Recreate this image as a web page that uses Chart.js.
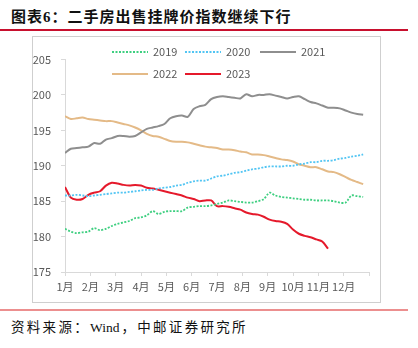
<!DOCTYPE html>
<html>
<head>
<meta charset="utf-8">
<script src="https://cdn.jsdelivr.net/npm/chart.js@4.4.1/dist/chart.umd.min.js"></script>
<style>
  html, body { margin: 0; padding: 0; background: #fff; }
  body { width: 418px; height: 348px; position: relative; overflow: hidden; }
  #title {
    position: absolute; left: 11px; top: 5px;
    font: bold 15px "Liberation Serif", "Noto Sans CJK SC", serif;
    letter-spacing: 1px; color: #111; white-space: nowrap;
  }
  .rule-top { position: absolute; left: 0; top: 29px; width: 408px; height: 2px; background: #c8102e; }
  .frame { position: absolute; left: 32px; top: 36px; width: 349px; height: 267px; box-sizing: border-box; border: 1px solid #cfcfcf; }
  #chartBox { position: absolute; left: 32px; top: 36px; }
  .rule-bottom { position: absolute; left: 0; top: 309px; width: 408px; height: 2px; background: #ec8f8f; }
  #source {
    position: absolute; left: 11px; top: 316px;
    font: 13.5px "Liberation Serif", "Noto Sans CJK SC", serif;
    letter-spacing: 2.3px; color: #111; white-space: nowrap;
  }
  #source .latin { letter-spacing: 0; margin-right: 2px; }
</style>
</head>
<body>
<div id="title">图表6：二手房出售挂牌价指数继续下行</div>
<div class="rule-top"></div>
<div class="frame"></div>
<canvas id="chartBox" width="348" height="266"></canvas>
<div class="rule-bottom"></div>
<div id="source">资料来源：<span class="latin">Wind</span>，中邮证券研究所</div>

<script>
// 二手房出售挂牌价指数，按周，1月起
const monthLabels = ['1月', '2月', '3月', '4月', '5月', '6月', '7月', '8月', '9月', '10月', '11月', '12月'];
const yTicks = [175, 180, 185, 190, 195, 200, 205];

const idx2019 = [181.1, 180.7, 180.5, 180.6, 180.7, 181.2, 180.9, 181.1, 181.5, 181.8,
  182.0, 182.2, 182.6, 182.7, 183.0, 183.6, 183.2, 183.5, 183.6, 183.6,
  183.6, 184.1, 184.2, 184.3, 184.3, 184.4, 184.6, 184.8, 185.1, 185.0,
  184.9, 184.8, 184.8, 185.0, 185.3, 186.2, 185.8, 185.6, 185.5, 185.4,
  185.3, 185.2, 185.2, 185.1, 185.1, 185.1, 185.0, 184.8, 184.8, 185.8,
  185.7, 185.6];
const idx2020 = [185.8, 185.8, 185.9, 185.8, 185.7, 185.8, 185.9, 186.0, 186.1, 186.2,
  186.2, 186.3, 186.4, 186.5, 186.6, 186.6, 186.8, 186.9, 187.0, 187.2,
  187.3, 187.6, 187.8, 187.9, 187.9, 188.2, 188.5, 188.6, 188.8, 189.0,
  189.1, 189.3, 189.5, 189.6, 189.8, 189.9, 189.9, 189.9, 190.0, 190.0,
  190.2, 190.3, 190.5, 190.5, 190.7, 190.7, 190.8, 191.0, 191.1, 191.3,
  191.4, 191.6];
const idx2021 = [191.8, 192.4, 192.5, 192.6, 192.7, 193.2, 193.1, 193.7, 193.9, 194.2,
  194.2, 194.1, 194.2, 194.7, 195.2, 195.4, 195.6, 195.9, 196.7, 197.0,
  197.1, 196.9, 198.0, 198.4, 198.6, 199.4, 199.7, 199.8, 199.7, 199.6,
  199.5, 200.1, 199.8, 200.0, 200.0, 200.1, 199.9, 199.7, 199.5, 199.7,
  199.8, 199.4, 199.0, 198.8, 198.5, 198.2, 198.2, 198.1, 197.8, 197.5,
  197.3, 197.2];
const idx2022 = [197.0, 196.6, 196.7, 196.8, 196.6, 196.5, 196.4, 196.3, 196.3, 196.1,
  195.9, 195.7, 195.4, 195.0, 194.5, 194.2, 194.1, 193.8, 193.5, 193.4,
  193.4, 193.3, 193.1, 192.9, 192.7, 192.6, 192.5, 192.3, 192.3, 192.2,
  192.0, 191.9, 191.6, 191.6, 191.5, 191.3, 191.1, 190.9, 190.8, 190.6,
  190.2, 190.0, 189.8, 189.8, 189.5, 189.2, 189.1, 188.8, 188.4, 188.0,
  187.7, 187.4];
const idx2023 = [187.0, 185.5, 185.2, 185.3, 185.9, 186.2, 186.4, 187.2, 187.6, 187.5,
  187.3, 187.2, 187.3, 187.2, 186.9, 186.8, 186.6, 186.4, 186.2, 186.0,
  185.8, 185.5, 185.3, 185.0, 185.1, 185.1, 184.3, 184.3, 184.2, 184.0,
  183.8, 183.4, 183.2, 183.1, 182.8, 182.4, 182.2, 182.1, 181.8, 181.0,
  180.4, 180.1, 179.9, 179.6, 179.3, 178.3];

const WEEKS = 52;
const toPoints = arr => arr.map((v, i) => ({ x: i, y: v }));

// 图例：两行，手动绘制在绘图区左上方
const cornerLegend = {
  id: 'cornerLegend',
  afterDraw(chart) {
    const ctx = chart.ctx;
    const cols = [80, 153, 228];
    const rows = [16, 38];
    chart.data.datasets.forEach((ds, k) => {
      const x = cols[k % 3], y = rows[Math.floor(k / 3)];
      ctx.save();
      ctx.strokeStyle = ds.borderColor;
      ctx.lineWidth = ds.borderWidth;
      ctx.setLineDash(ds.borderDash || []);
      ctx.beginPath();
      ctx.moveTo(x, y);
      ctx.lineTo(x + 36, y);
      ctx.stroke();
      ctx.setLineDash([]);
      ctx.fillStyle = '#595959';
      ctx.font = '11px "Noto Sans CJK SC", sans-serif';
      ctx.textBaseline = 'middle';
      ctx.fillText(ds.label, x + 41, y);
      ctx.restore();
    });
  }
};

const axisFont = { family: '"Noto Sans CJK SC", sans-serif', size: 11 };

new Chart(document.getElementById('chartBox'), {
  type: 'line',
  data: {
    datasets: [
      { label: '2019', data: toPoints(idx2019), borderColor: '#3ecf80', borderWidth: 1.8, borderDash: [2, 1.5] },
      { label: '2020', data: toPoints(idx2020), borderColor: '#52c5f3', borderWidth: 1.8, borderDash: [2, 1.5] },
      { label: '2021', data: toPoints(idx2021), borderColor: '#8e8e8e', borderWidth: 2 },
      { label: '2022', data: toPoints(idx2022), borderColor: '#e4ba87', borderWidth: 2 },
      { label: '2023', data: toPoints(idx2023), borderColor: '#e5192b', borderWidth: 2 }
    ]
  },
  options: {
    responsive: false,
    animation: false,
    layout: { padding: { top: 23.5, right: 11, left: 0, bottom: 0 } },
    elements: { point: { radius: 0 }, line: { tension: 0.3, fill: false } },
    plugins: { legend: { display: false }, tooltip: { enabled: false } },
    scales: {
      x: {
        type: 'linear',
        min: 0,
        max: WEEKS,
        afterBuildTicks: scale => {
          const t = monthLabels.map((m, k) => ({ value: k * WEEKS / 12 }));
          t.push({ value: WEEKS });
          scale.ticks = t;
        },
        afterFit: scale => { scale.height = 30; },
        ticks: {
          autoSkip: false,
          maxRotation: 0,
          padding: 4,
          color: '#595959',
          font: axisFont,
          callback: (v, i) => monthLabels[i] || ''
        },
        grid: { drawOnChartArea: false, drawTicks: true, tickLength: 4, color: '#d9d9d9' },
        border: { color: '#d9d9d9' }
      },
      y: {
        min: 175,
        max: 205,
        afterBuildTicks: scale => { scale.ticks = yTicks.map(v => ({ value: v })); },
        afterFit: scale => { scale.width = 33; },
        ticks: { padding: 10, color: '#595959', font: axisFont },
        grid: { drawOnChartArea: false, drawTicks: true, tickLength: 4, color: '#d9d9d9' },
        border: { color: '#d9d9d9' }
      }
    }
  },
  plugins: [cornerLegend]
});
</script>
</body>
</html>
